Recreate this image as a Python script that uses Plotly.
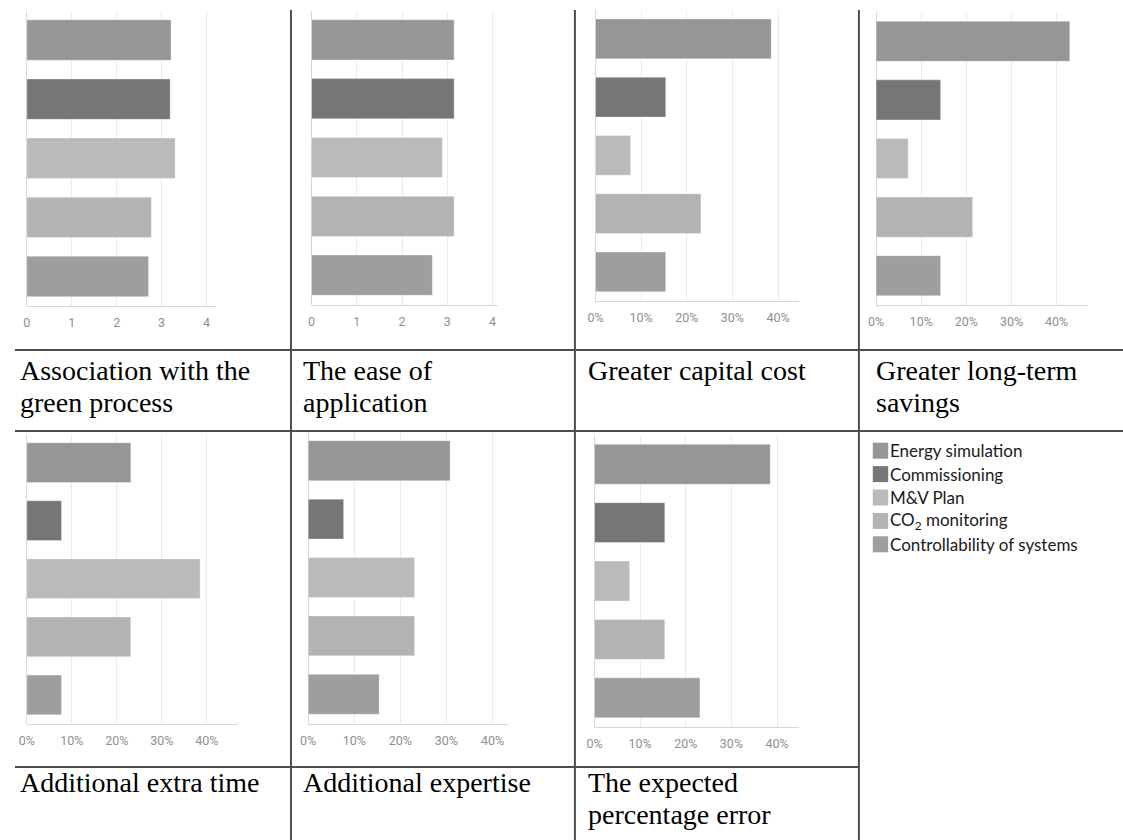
import plotly.graph_objects as go

# Survey methods (one bar per method in every panel) and their fills
methods = [
    "Energy simulation",
    "Commissioning",
    "M&V Plan",
    "CO<sub>2</sub> monitoring",
    "Controllability of systems",
]
method_colors = ["#969696", "#767676", "#bababa", "#b3b3b3", "#9e9e9e"]

# Mean scores (0-4 scale)
association_green = [3.21, 3.19, 3.30, 2.77, 2.71]
ease_of_application = [3.15, 3.15, 2.89, 3.15, 2.67]

# Share of respondents
greater_capital_cost = [0.385, 0.154, 0.077, 0.231, 0.154]
long_term_savings = [0.429, 0.143, 0.071, 0.214, 0.143]
additional_extra_time = [0.231, 0.077, 0.385, 0.231, 0.077]
additional_expertise = [0.308, 0.077, 0.231, 0.231, 0.154]
expected_pct_error = [0.385, 0.154, 0.077, 0.154, 0.231]

panel_titles = [
    ["Association with the", "green process"],
    ["The ease of", "application"],
    ["Greater capital cost"],
    ["Greater long-term", "savings"],
    ["Additional extra time"],
    ["Additional expertise"],
    ["The expected", "percentage error"],
]
panel_values = [
    association_green,
    ease_of_application,
    greater_capital_cost,
    long_term_savings,
    additional_extra_time,
    additional_expertise,
    expected_pct_error,
]
score_ticks = [0, 1, 2, 3, 4]
share_ticks = [0, 0.1, 0.2, 0.3, 0.4]

# ---- page geometry (pixels) ----
W, H = 1123, 840
# (left, right, top, bottom, axis max) of each plotting area
plot_boxes = [
    (19, 209, 10.5, 306, 4.2),
    (305.7, 494, 10.5, 304.5, 4.13),
    (591.7, 796.7, 9.8, 301, 0.446),
    (874.3, 1088, 12, 305, 0.47),
    (19, 232, 433.5, 724, 0.47),
    (302.3, 503.3, 431.5, 723.5, 0.433),
    (590.7, 796.7, 435, 727, 0.448),
]
col_text_x = [10, 295, 582, 872]
row_baselines = [[380, 412], [792, 824]]


def px(x):
    return x / W


def py(y):
    return 1 - y / H


fig = go.Figure()
layout_axes = {}
for i, (vals, box) in enumerate(zip(panel_values, plot_boxes)):
    suffix = "" if i == 0 else str(i + 1)
    x0, x1, yt, yb, xmax = box
    is_share = i >= 2
    fig.add_trace(
        go.Bar(
            x=vals,
            y=methods,
            orientation="h",
            xaxis="x" + suffix,
            yaxis="y" + suffix,
            marker=dict(color=method_colors,
                        line=dict(color="rgba(255,255,255,0.35)", width=1)),
            showlegend=False,
            hoverinfo="skip",
        )
    )
    layout_axes["xaxis" + suffix] = dict(
        domain=[px(x0), px(x1)],
        range=[0, xmax],
        anchor="y" + suffix,
        tickvals=share_ticks if is_share else score_ticks,
        tickformat=".0%" if is_share else "d",
        showgrid=True,
        gridcolor="#ebebeb",
        gridwidth=1,
        zeroline=True,
        zerolinecolor="#d8d8d8",
        zerolinewidth=1,
        showline=True,
        linecolor="#d8d8d8",
        linewidth=1,
        ticks="outside",
        ticklen=5,
        tickcolor="rgba(0,0,0,0)",
        tickfont=dict(family="Roboto", size=12.5, color="#8f8f8f"),
        fixedrange=True,
    )
    layout_axes["yaxis" + suffix] = dict(
        domain=[py(yb), py(yt)],
        anchor="x" + suffix,
        type="category",
        categoryorder="array",
        categoryarray=methods,
        autorange="reversed",
        showticklabels=False,
        showgrid=False,
        zeroline=False,
        showline=False,
        ticks="",
        fixedrange=True,
    )

# ---- table rules ----
rule = dict(color="#4d4d4d", width=2)
shapes = []
for x in (285, 571, 857):
    shapes.append(dict(type="line", xref="paper", yref="paper",
                       x0=px(x), x1=px(x), y0=py(10), y1=py(840), line=rule))
for y, xr in ((350, 1123), (431, 1123), (767, 857)):
    shapes.append(dict(type="line", xref="paper", yref="paper",
                       x0=px(7), x1=px(xr), y0=py(y), y1=py(y), line=rule))

# ---- panel captions ----
annotations = []
cap_size = 28
for i, lines in enumerate(panel_titles):
    row, col = divmod(i, 4)
    for j, line in enumerate(lines):
        base = row_baselines[row][j]
        annotations.append(dict(
            text=line, xref="paper", yref="paper",
            x=px(col_text_x[col]), y=py(base - 0.3375 * cap_size),
            xanchor="left", yanchor="middle", showarrow=False,
            font=dict(family="Liberation Serif", size=cap_size, color="#000000"),
        ))

# ---- key ----
key_top = 450.7
key_step = 23.4
for k, (name, color) in enumerate(zip(methods, method_colors)):
    cy = key_top + k * key_step
    shapes.append(dict(type="rect", xref="paper", yref="paper",
                       x0=px(871), x1=px(886.5), y0=py(cy + 8), y1=py(cy - 8),
                       fillcolor=color, line=dict(width=0)))
    annotations.append(dict(
        text=name, xref="paper", yref="paper",
        x=px(886), y=py(cy), xanchor="left", yanchor="middle",
        showarrow=False,
        font=dict(family="Lato", size=17, color="#1a1a1a"),
    ))

fig.update_layout(
    width=W,
    height=H,
    margin=dict(l=0, r=0, t=0, b=0),
    paper_bgcolor="white",
    plot_bgcolor="white",
    bargap=0.316,
    shapes=shapes,
    annotations=annotations,
    showlegend=False,
    **layout_axes,
)

fig.write_html("out.html")
